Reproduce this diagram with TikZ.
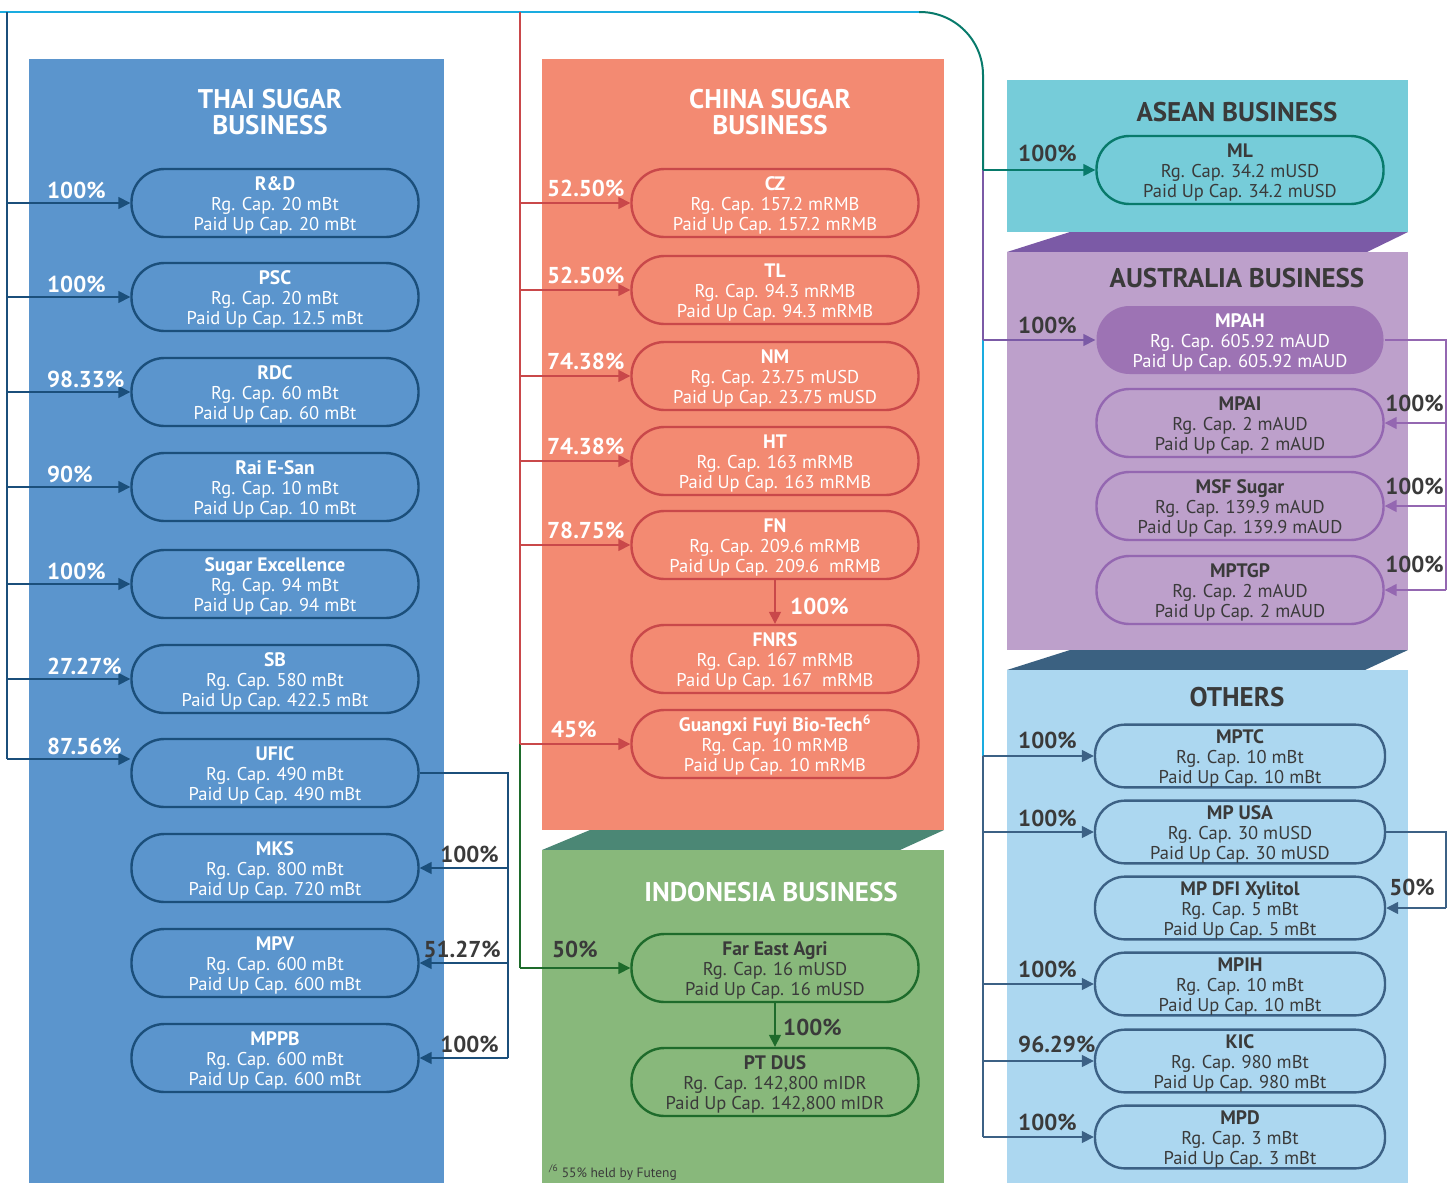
\documentclass[tikz,border=0pt]{standalone}
\usepackage{fontspec}
\setmainfont{PT Sans}
\usetikzlibrary{arrows.meta}
\usetikzlibrary{positioning}
\usetikzlibrary{calc}

\definecolor{thaibg}{HTML}{5B95CD}
\definecolor{thailine}{HTML}{1B4F7B}
\definecolor{chinabg}{HTML}{F38A72}
\definecolor{chinaline}{HTML}{C9484A}
\definecolor{indobg}{HTML}{88B87B}
\definecolor{indoline}{HTML}{1E6B2B}
\definecolor{indoband}{HTML}{4B8775}
\definecolor{aseanbg}{HTML}{76CCD9}
\definecolor{aseanline}{HTML}{087A6B}
\definecolor{ausbg}{HTML}{BDA0CB}
\definecolor{ausband}{HTML}{7B5AA6}
\definecolor{ausfill}{HTML}{9D73B4}
\definecolor{ausline}{HTML}{9467B1}
\definecolor{othbg}{HTML}{ACD7F0}
\definecolor{othband}{HTML}{3B6181}
\definecolor{othline}{HTML}{3C6185}
\definecolor{topline}{HTML}{1AACE0}
\definecolor{darktext}{HTML}{3A3A3A}

\newcommand{\bodyfont}{\fontsize{18.5}{20}\selectfont}
\newcommand{\pctfont}{\fontsize{23}{24}\selectfont\bfseries}
\newcommand{\headfont}{\fontsize{27}{26}\selectfont\bfseries}
\newcommand{\firm}[3]{\rule{0pt}{19pt}{\fontsize{19.5}{20}\selectfont\bfseries #1}\\Rg. Cap. #2\\Paid Up Cap. #3}

\begin{document}
\begin{tikzpicture}[line cap=butt,line join=miter,x=1pt,y=-1pt,
  firm/.style={draw,line width=2.4pt,rounded corners=33pt,minimum width=287pt,minimum height=68pt,align=center,inner sep=0pt,font=\bodyfont},
  thaifirm/.style={firm,draw=thailine,text=white},
  chinafirm/.style={firm,draw=chinaline,text=white},
  indofirm/.style={firm,draw=indoline,text=darktext},
  aseanfirm/.style={firm,draw=aseanline,text=darktext},
  ausfirm/.style={firm,draw=ausline,text=darktext},
  ausmain/.style={firm,draw=none,fill=ausfill,text=white},
  othfirm/.style={firm,draw=othline,text=darktext,minimum width=290pt,minimum height=62pt,rounded corners=30pt},
  head/.style={font=\headfont,align=center,inner sep=0pt},
  pct/.style={font=\pctfont,inner sep=0pt},
  link/.style={line width=1.5pt,-{Triangle[length=12pt,width=12pt]}},
  trunk/.style={line width=1.5pt}]
\useasboundingbox (0,0) rectangle (1456,1183);
% panels
\fill[thaibg] (29,59) rectangle (444,1183);
\fill[chinabg] (542,59) rectangle (944,830);
\fill[indoband] (542,850) -- (590,830) -- (944,830) -- (900,850) -- cycle;
\fill[indobg] (542,850) rectangle (944,1183);
\fill[aseanbg] (1007,80) rectangle (1408,232);
\fill[ausband] (1007,252) -- (1070,232) -- (1408,232) -- (1367,252) -- cycle;
\fill[ausbg] (1007,252) rectangle (1408,650);
\fill[othband] (1007,670) -- (1070,650) -- (1408,650) -- (1365,670) -- cycle;
\fill[othbg] (1007,670) rectangle (1408,1183);
% titles
\node[head,white] (thaiTitle) at (270,112) {THAI SUGAR\\BUSINESS};
\node[head,white] (chinaTitle) at (770,112) {CHINA SUGAR\\BUSINESS};
\node[head,white] (indoTitle) at (771,892) {INDONESIA BUSINESS};
\node[head,darktext] (aseanTitle) at (1237,112) {ASEAN BUSINESS};
\node[head,darktext] (ausTitle) at (1237,278) {AUSTRALIA BUSINESS};
\node[head,darktext] (othTitle) at (1237,697) {OTHERS};
% thai sugar
\node[thaifirm] (rd) at (275,203) {\firm{R\&D}{20 mBt}{20 mBt}};
\node[thaifirm] (psc) at (275,297) {\firm{PSC}{20 mBt}{12.5 mBt}};
\node[thaifirm] (rdc) at (275,392) {\firm{RDC}{60 mBt}{60 mBt}};
\node[thaifirm] (rai) at (275,487) {\firm{Rai E-San}{10 mBt}{10 mBt}};
\node[thaifirm] (se) at (275,584) {\firm{Sugar Excellence}{94 mBt}{94 mBt}};
\node[thaifirm] (sb) at (275,679) {\firm{SB}{580 mBt}{422.5 mBt}};
\node[thaifirm] (ufic) at (275,773) {\firm{UFIC}{490 mBt}{490 mBt}};
\node[thaifirm] (mks) at (275,868) {\firm{MKS}{800 mBt}{720 mBt}};
\node[thaifirm] (mpv) at (275,963) {\firm{MPV}{600 mBt}{600 mBt}};
\node[thaifirm] (mppb) at (275,1058) {\firm{MPPB}{600 mBt}{600 mBt}};
% china sugar
\node[chinafirm] (cz) at (775,203) {\firm{CZ}{157.2 mRMB}{157.2 mRMB}};
\node[chinafirm] (tl) at (775,290) {\firm{TL}{94.3 mRMB}{94.3 mRMB}};
\node[chinafirm] (nm) at (775,376) {\firm{NM}{23.75 mUSD}{23.75 mUSD}};
\node[chinafirm] (ht) at (775,461) {\firm{HT}{163 mRMB}{163 mRMB}};
\node[chinafirm] (fn) at (775,545) {\firm{FN}{209.6 mRMB}{209.6 \ mRMB}};
\node[chinafirm] (fnrs) at (775,659) {\firm{FNRS}{167 mRMB}{167 \ mRMB}};
\node[chinafirm] (gx) at (775,744) {\firm{Guangxi Fuyi Bio-Tech\textsuperscript{6}}{10 mRMB}{10 mRMB}};
% indonesia
\node[indofirm] (fea) at (775,968) {\firm{Far East Agri}{16 mUSD}{16 mUSD}};
\node[indofirm] (ptdus) at (775,1082) {\firm{PT DUS}{142,800 mIDR}{142,800 mIDR}};
\node[anchor=base west,inner sep=0pt,text=darktext,font=\fontsize{13.5}{14}\selectfont] (note) at (549,1177) {\textsuperscript{/6} 55\% held by Futeng};
% asean, australia
\node[aseanfirm] (ml) at (1240,170) {\firm{ML}{34.2 mUSD}{34.2 mUSD}};
\node[ausmain] (mpah) at (1240,340) {\firm{MPAH}{605.92 mAUD}{605.92 mAUD}};
\node[ausfirm] (mpai) at (1240,423) {\firm{MPAI}{2 mAUD}{2 mAUD}};
\node[ausfirm] (msf) at (1240,506) {\firm{MSF Sugar}{139.9 mAUD}{139.9 mAUD}};
\node[ausfirm] (mptgp) at (1240,590) {\firm{MPTGP}{2 mAUD}{2 mAUD}};
% others
\node[othfirm] (mptc) at (1240,756) {\firm{MPTC}{10 mBt}{10 mBt}};
\node[othfirm] (mpusa) at (1240,832) {\firm{MP USA}{30 mUSD}{30 mUSD}};
\node[othfirm] (dfi) at (1240,908) {\firm{MP DFI Xylitol}{5 mBt}{5 mBt}};
\node[othfirm] (mpih) at (1240,984) {\firm{MPIH}{10 mBt}{10 mBt}};
\node[othfirm] (kic) at (1240,1061) {\firm{KIC}{980 mBt}{980 mBt}};
\node[othfirm] (mpd) at (1240,1137) {\firm{MPD}{3 mBt}{3 mBt}};
% trunks
\coordinate (tt) at (7,12);
\coordinate (ct) at (520,12);
\coordinate (rt) at (983,12);
\coordinate (ut) at (508,0);
\coordinate (at) at (1446,0);
\coordinate (uficIn) at ([yshift=14pt]ufic.west);
\draw[line width=2.5pt,topline] (0,12) -- (921,12);
\draw[trunk,thailine] (tt) -- (tt |- uficIn);
\draw[trunk,chinaline] (ct) -- (ct |- gx.west);
\draw[trunk,indoline] (ct |- gx.west) -- (ct |- fea.west);
\draw[line width=2pt,aseanline,rounded corners=63pt] (919,12) -- (rt) -- (rt |- ml.west);
\draw[trunk,ausband] (rt |- ml.west) -- (rt |- mpah.west);
\draw[trunk,topline] (rt |- mpah.west) -- (rt |- mptc.west);
\draw[trunk,othline] (rt |- mptc.west) -- (rt |- mpd.west);
\draw[trunk,thailine] (ufic.east) -- (ut |- ufic.east) -- (ut |- mppb.east);
\draw[trunk,ausline] (mpah.east) -- (at |- mpah.east) -- (at |- mptgp.east);
\draw[trunk,othline] (mpusa.east) -- (at |- mpusa.east) -- (at |- dfi.east);
% thai links
\draw[link,thailine] (tt |- rd.west) -- (rd.west);
\draw[link,thailine] (tt |- psc.west) -- (psc.west);
\draw[link,thailine] (tt |- rdc.west) -- (rdc.west);
\draw[link,thailine] (tt |- rai.west) -- (rai.west);
\draw[link,thailine] (tt |- se.west) -- (se.west);
\draw[link,thailine] (tt |- sb.west) -- (sb.west);
\draw[link,thailine] (tt |- uficIn) -- (uficIn);
\draw[link,thailine] (ut |- mks.east) -- (mks.east);
\draw[link,thailine] (ut |- mpv.east) -- (mpv.east);
\draw[link,thailine] (ut |- mppb.east) -- (mppb.east);
\node[pct,white,anchor=base west] (pRD) at ($(tt |- rd.west)+(40,-5)$) {100\%};
\node[pct,white,anchor=base west] (pPSC) at ($(tt |- psc.west)+(40,-5)$) {100\%};
\node[pct,white,anchor=base west] (pRDC) at ($(tt |- rdc.west)+(40,-5)$) {98.33\%};
\node[pct,white,anchor=base west] (pRAI) at ($(tt |- rai.west)+(40,-5)$) {90\%};
\node[pct,white,anchor=base west] (pSE) at ($(tt |- se.west)+(40,-5)$) {100\%};
\node[pct,white,anchor=base west] (pSB) at ($(tt |- sb.west)+(40,-5)$) {27.27\%};
\node[pct,white,anchor=base west] (pUFIC) at ($(tt |- uficIn)+(40,-5)$) {87.56\%};
\node[pct,darktext,anchor=base east] (pMKS) at ($(ut |- mks.east)+(-9,-6)$) {100\%};
\node[pct,darktext,anchor=base east] (pMPV) at ($(ut |- mpv.east)+(-7,-6)$) {51.27\%};
\node[pct,darktext,anchor=base east] (pMPPB) at ($(ut |- mppb.east)+(-9,-6)$) {100\%};
% china links
\draw[link,chinaline] (ct |- cz.west) -- (cz.west);
\draw[link,chinaline] (ct |- tl.west) -- (tl.west);
\draw[link,chinaline] (ct |- nm.west) -- (nm.west);
\draw[link,chinaline] (ct |- ht.west) -- (ht.west);
\draw[link,chinaline] (ct |- fn.west) -- (fn.west);
\draw[link,chinaline] (ct |- gx.west) -- (gx.west);
\draw[link,chinaline] (fn.south) -- (fnrs.north);
\node[pct,white,anchor=base west] (pCZ) at ($(ct |- cz.west)+(27,-7)$) {52.50\%};
\node[pct,white,anchor=base west] (pTL) at ($(ct |- tl.west)+(27,-7)$) {52.50\%};
\node[pct,white,anchor=base west] (pNM) at ($(ct |- nm.west)+(27,-7)$) {74.38\%};
\node[pct,white,anchor=base west] (pHT) at ($(ct |- ht.west)+(27,-7)$) {74.38\%};
\node[pct,white,anchor=base west] (pFN) at ($(ct |- fn.west)+(27,-7)$) {78.75\%};
\node[pct,white,anchor=base west] (pGX) at ($(ct |- gx.west)+(31,-7)$) {45\%};
\node[pct,white,anchor=base west] (pFNRS) at ($(fn.south)+(15,34)$) {100\%};
% indonesia links
\draw[link,indoline] (ct |- fea.west) -- (fea.west);
\draw[link,indoline] (fea.south) -- (ptdus.north);
\node[pct,darktext,anchor=base west] (pFEA) at ($(ct |- fea.west)+(32,-11)$) {50\%};
\node[pct,darktext,anchor=base west] (pPT) at ($(fea.south)+(8,32)$) {100\%};
% asean, australia links
\draw[link,aseanline] (rt |- ml.west) -- (ml.west);
\draw[link,ausband] (rt |- mpah.west) -- (mpah.west);
\draw[link,ausline] (at |- mpai.east) -- (mpai.east);
\draw[link,ausline] (at |- msf.east) -- (msf.east);
\draw[link,ausline] (at |- mptgp.east) -- (mptgp.east);
\node[pct,darktext,anchor=base west] (pML) at ($(rt |- ml.west)+(35,-9)$) {100\%};
\node[pct,darktext,anchor=base west] (pMPAH) at ($(rt |- mpah.west)+(35,-7)$) {100\%};
\node[pct,darktext,anchor=base east] (pMPAI) at ($(at |- mpai.east)+(-2,-12)$) {100\%};
\node[pct,darktext,anchor=base east] (pMSF) at ($(at |- msf.east)+(-2,-12)$) {100\%};
\node[pct,darktext,anchor=base east] (pMPTGP) at ($(at |- mptgp.east)+(-2,-18)$) {100\%};
% others links
\draw[link,othline] (rt |- mptc.west) -- (mptc.west);
\draw[link,othline] (rt |- mpusa.west) -- (mpusa.west);
\draw[link,othline] (rt |- mpih.west) -- (mpih.west);
\draw[link,othline] (rt |- kic.west) -- (kic.west);
\draw[link,othline] (rt |- mpd.west) -- (mpd.west);
\draw[link,othline] (at |- dfi.east) -- (dfi.east);
\node[pct,darktext,anchor=base west] (pMPTC) at ($(rt |- mptc.west)+(35,-8)$) {100\%};
\node[pct,darktext,anchor=base west] (pUSA) at ($(rt |- mpusa.west)+(35,-6)$) {100\%};
\node[pct,darktext,anchor=base west] (pMPIH) at ($(rt |- mpih.west)+(35,-7)$) {100\%};
\node[pct,darktext,anchor=base west] (pKIC) at ($(rt |- kic.west)+(35,-9)$) {96.29\%};
\node[pct,darktext,anchor=base west] (pMPD) at ($(rt |- mpd.west)+(35,-7)$) {100\%};
\node[pct,darktext,anchor=base east] (pDFI) at ($(at |- dfi.east)+(-11,-13)$) {50\%};
\end{tikzpicture}
\end{document}
